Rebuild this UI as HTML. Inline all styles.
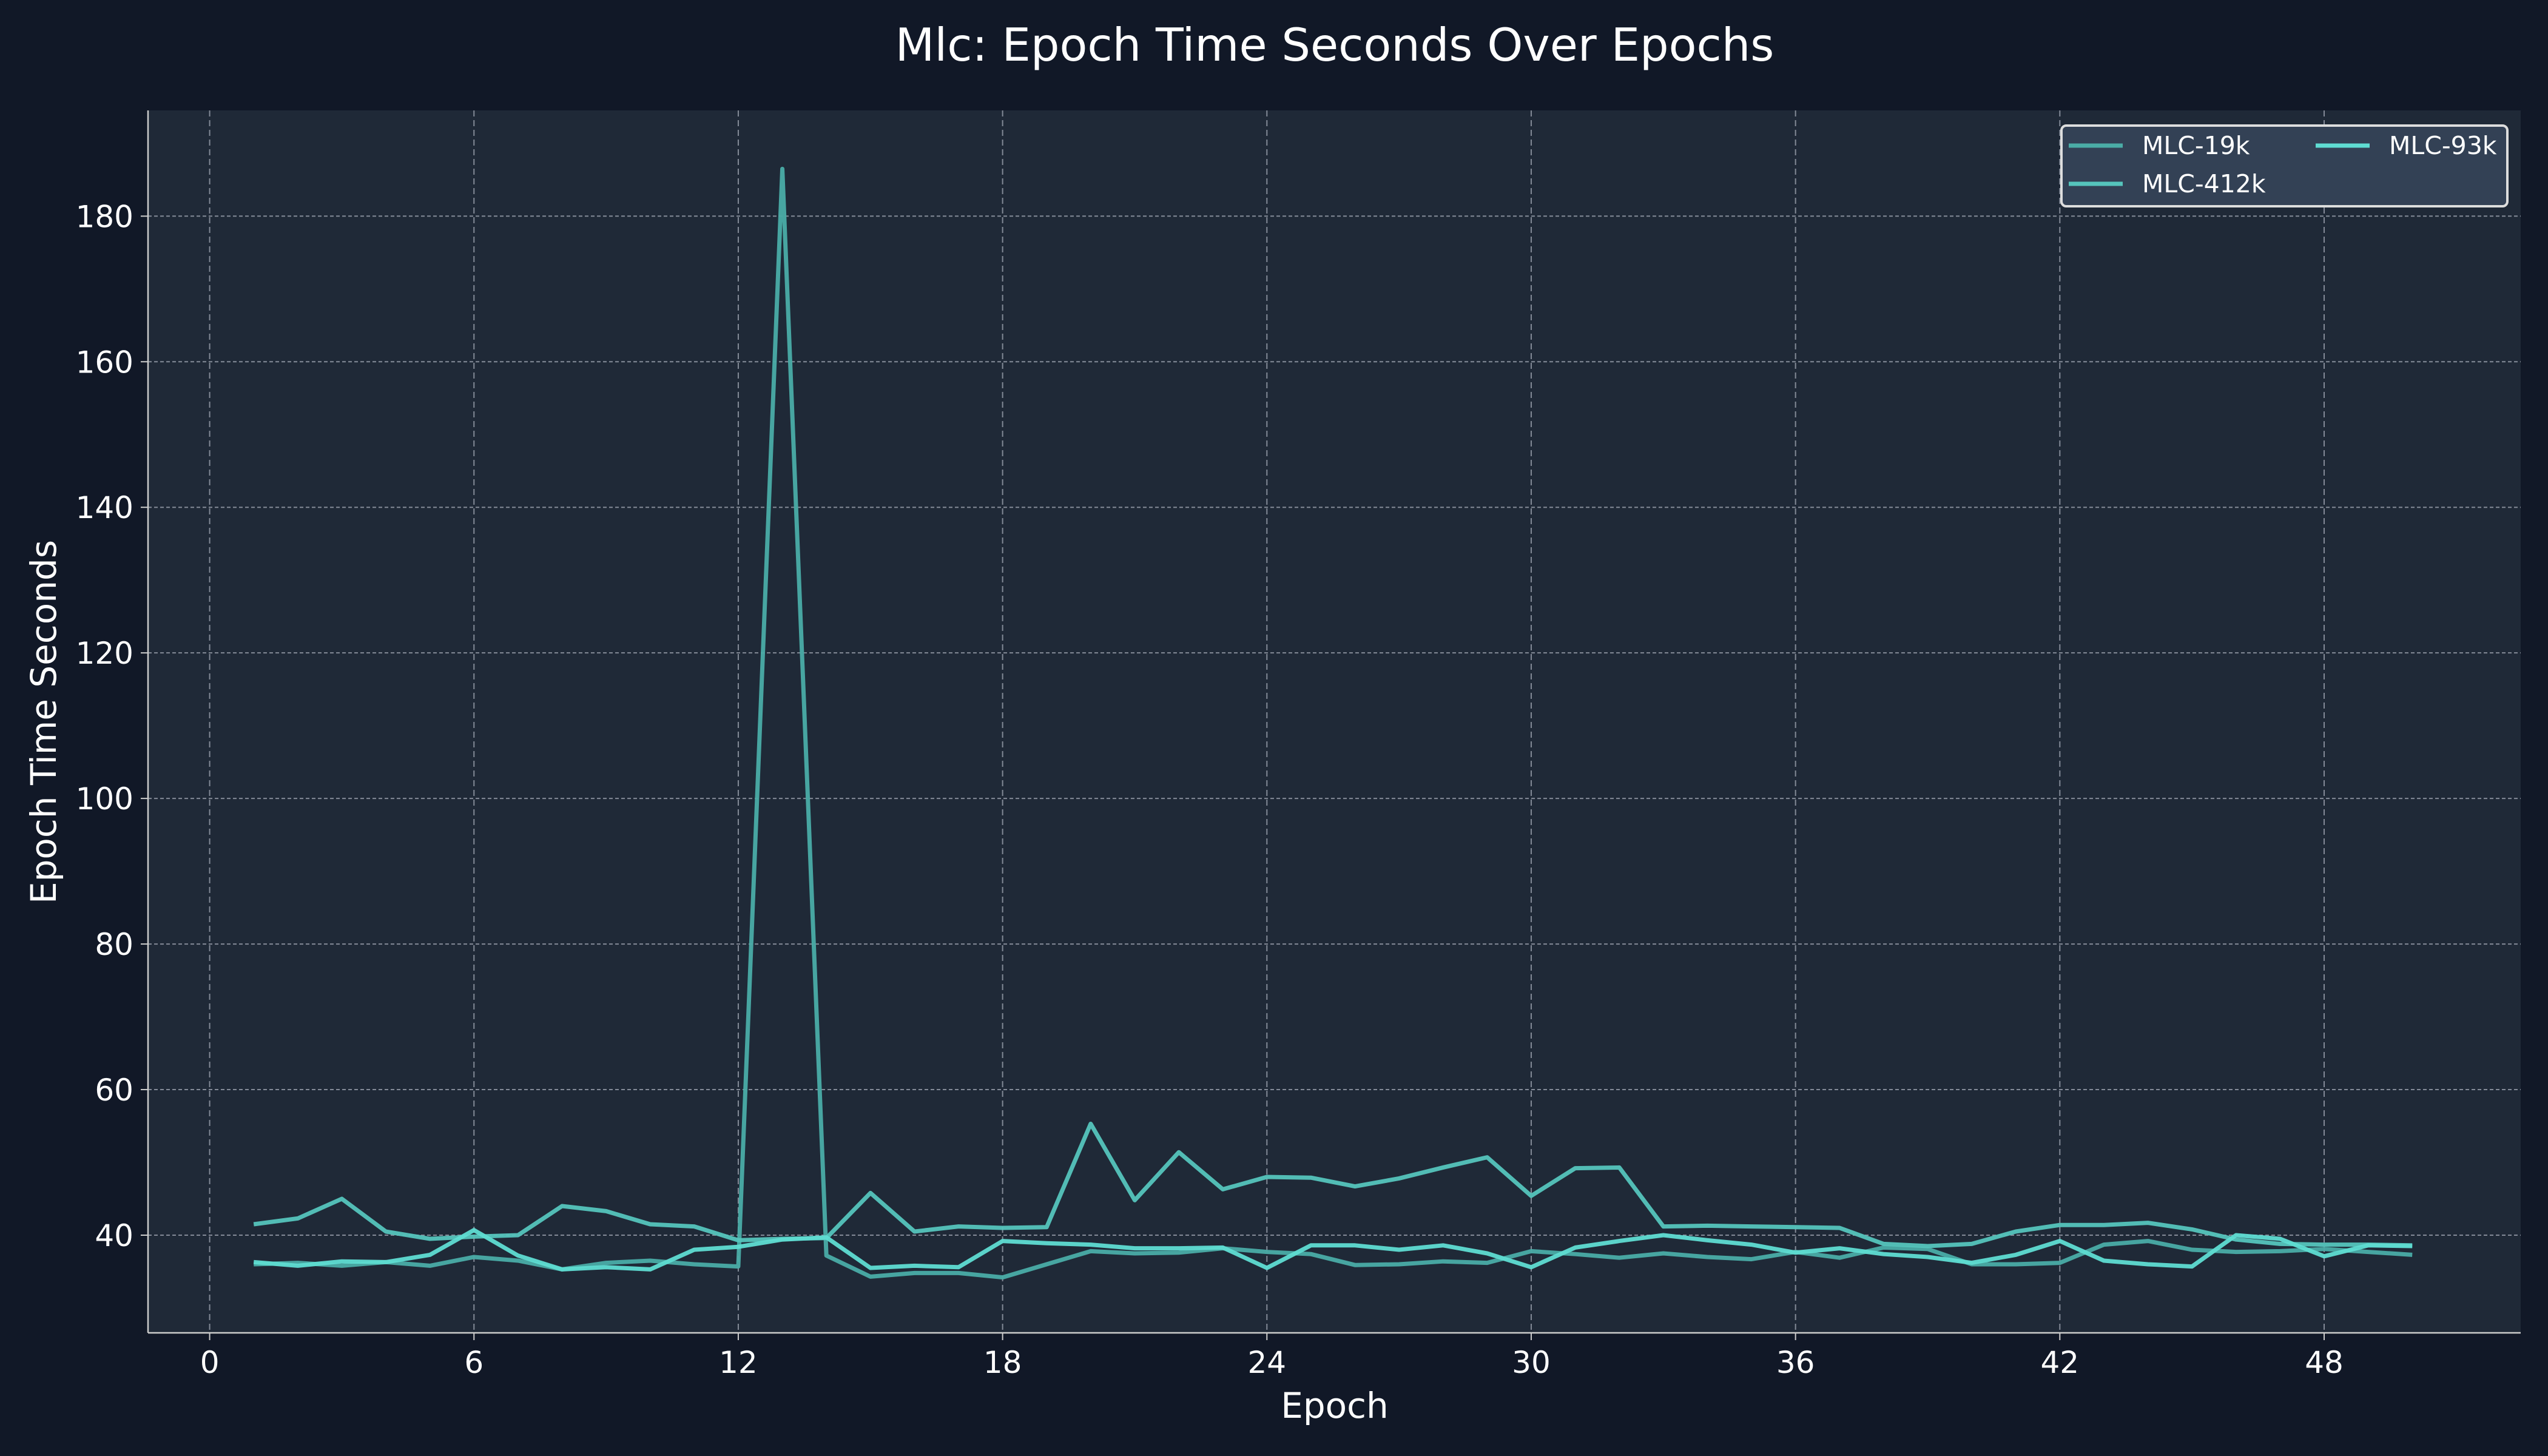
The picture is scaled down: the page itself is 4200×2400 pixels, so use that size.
<!DOCTYPE html>
<html><head><meta charset="utf-8"><style>
html,body{margin:0;padding:0;background:#111827;}
svg{display:block;font-family:"DejaVu Sans","Liberation Sans",sans-serif;}
</style></head><body>
<svg id="chart" width="4200" height="2400" viewBox="0 0 4200 2400">
<rect x="0" y="0" width="4200" height="2400" fill="#111827"/>
<text x="2200" y="100" text-anchor="middle" font-size="75" fill="#ffffff">Mlc: Epoch Time Seconds Over Epochs</text>
<rect x="244" y="182" width="3911" height="2015" fill="#1f2937"/>
<g id="grid"></g>
<g id="axes"></g>
<g id="series"></g>
<text x="2200" y="2337" text-anchor="middle" font-size="58" fill="#ffffff">Epoch</text>
<text transform="translate(92,1190) rotate(-90)" text-anchor="middle" font-size="58" fill="#ffffff">Epoch Time Seconds</text>
<g>
<rect x="3398" y="207" width="735" height="133" rx="8" fill="#334155" stroke="#dddddd" stroke-width="4"/>
<line x1="3410" y1="240" x2="3499" y2="240" stroke="#4aaca6" stroke-width="7"/>
<text x="3531" y="254" font-size="41" fill="#ffffff">MLC-19k</text>
<line x1="3410" y1="303" x2="3499" y2="303" stroke="#55c4bc" stroke-width="7"/>
<text x="3531" y="317" font-size="41" fill="#ffffff">MLC-412k</text>
<line x1="3817" y1="240" x2="3906" y2="240" stroke="#5fdcd2" stroke-width="7"/>
<text x="3938" y="254" font-size="41" fill="#ffffff">MLC-93k</text>
</g>
</svg>
<script>
const epochs = Array.from({length:50},(_,i)=>i+1);
const s19k = [36,36.2,35.8,36.3,35.8,37,36.5,35.3,36.2,36.5,36,35.7,186.5,37.2,34.3,34.8,34.8,34.2,36,37.8,37.5,37.6,38.2,37.7,37.4,35.9,36,36.4,36.2,37.8,37.4,36.9,37.5,37,36.7,37.7,36.9,38.3,38.1,36,36,36.2,38.7,39.2,38,37.7,37.8,38.1,37.7,37.3];
const s412k = [41.5,42.3,45,40.5,39.5,39.8,40,44,43.3,41.5,41.2,39.3,39.5,39.6,45.8,40.5,41.2,41,41.1,55.3,44.8,51.4,46.3,48,47.9,46.7,47.8,49.3,50.7,45.4,49.2,49.3,41.2,41.3,41.2,41.1,41,38.8,38.5,38.8,40.5,41.4,41.4,41.7,40.8,39.4,38.8,38.7,38.7,38.6];
const s93k = [36.3,35.8,36.4,36.3,37.3,40.7,37.2,35.3,35.6,35.3,38,38.4,39.4,39.7,35.5,35.8,35.6,39.2,38.9,38.7,38.2,38.2,38.3,35.5,38.6,38.6,38,38.6,37.5,35.6,38.3,39.2,40,39.3,38.7,37.6,38.2,37.4,37,36.2,37.3,39.2,36.5,36,35.7,40,39.5,37.1,38.6,38.5];
const xTicks = [0,6,12,18,24,30,36,42,48];
const yTicks = [40,60,80,100,120,140,160,180];

const NS="http://www.w3.org/2000/svg";
const PL=244,PR=4155,PT=182,PB=2197;
const xs = v => 345.6 + v*(3831-345.6)/48;
const ys = v => 2036 - (v-40)*(2036-356.3)/140;
function mk(tag, attrs, parent){const e=document.createElementNS(NS,tag);for(const k in attrs)e.setAttribute(k,attrs[k]);parent.appendChild(e);return e;}
const grid=document.getElementById('grid'), axes=document.getElementById('axes'), ser=document.getElementById('series');
xTicks.forEach(t=>{
  const g=mk('line',{x1:xs(t),x2:xs(t),y1:PT,y2:PB,stroke:'#9ca3af','stroke-width':2,'stroke-dasharray':'10,6',opacity:0.8},grid);
  
  
  const tk=mk('line',{x1:xs(t),x2:xs(t),y1:PB,y2:PB+12,stroke:'#cccccc','stroke-width':2},axes);
  
  
  const tx=mk('text',{x:xs(t),y:PB+66,'text-anchor':'middle','font-size':50,fill:'#ffffff'},axes);
  tx.textContent=t;
  
  
});
yTicks.forEach(t=>{
  const g=mk('line',{x1:PL,x2:PR,y1:ys(t),y2:ys(t),stroke:'#9ca3af','stroke-width':2,'stroke-dasharray':'6,4',opacity:0.8},grid);
  
  
  const tk=mk('line',{x1:PL-12,x2:PL,y1:ys(t),y2:ys(t),stroke:'#cccccc','stroke-width':2},axes);
  
  
  const tx=mk('text',{x:PL-24,y:ys(t)+18,'text-anchor':'end','font-size':50,fill:'#ffffff'},axes);
  tx.textContent=t;
  
  
});
const la=mk('line',{x1:PL,x2:PL,y1:PT,y2:PB,stroke:'#cccccc','stroke-width':2.5},axes);


const ba=mk('line',{x1:PL,x2:PR,y1:PB,y2:PB,stroke:'#cccccc','stroke-width':2.5},axes);


function drawSeries(vals,color,name){
  const p=mk('polyline',{points:vals.map((v,i)=>xs(epochs[i])+','+ys(v)).join(' '),fill:'none',stroke:color,'stroke-width':7,'stroke-linejoin':'round',opacity:0.95},ser);
  
  
}
drawSeries(s19k,'#4aaca6','series-mlc-19k');
drawSeries(s412k,'#55c4bc','series-mlc-412k');
drawSeries(s93k,'#5fdcd2','series-mlc-93k');
</script>
</body></html>
